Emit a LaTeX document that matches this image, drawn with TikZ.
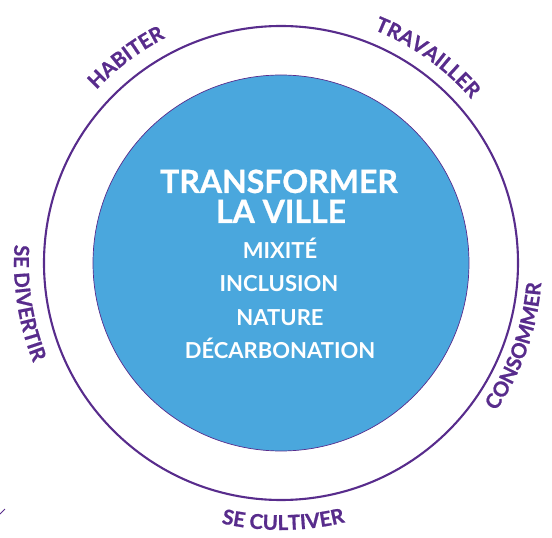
\documentclass[tikz,border=0pt]{standalone}
\usepackage{fontspec}
\setmainfont{Lato}
\newfontfamily\heavyface{Lato}[BoldFeatures={FakeBold=0.8}]
\usetikzlibrary{decorations.text}
\definecolor{ink}{RGB}{88,44,140}
\definecolor{sky}{RGB}{74,167,221}
\newcommand{\ringfont}{\heavyface\bfseries\fontsize{20.5}{20.5}\selectfont}
\begin{document}
\begin{tikzpicture}
[x=1pt, y=1pt,
ring/.style={circle, draw=ink, line width=2.1pt, inner sep=0pt, minimum size=474pt},
core/.style={circle, draw=ink, line width=0.7pt, fill=sky, inner sep=0pt, minimum size=376pt},
title/.style={anchor=base, inner sep=0pt, text=white, font=\heavyface\bfseries\fontsize{32}{32}\selectfont},
theme/.style={anchor=base, inner sep=0pt, text=white, font=\bfseries\fontsize{22}{22}\selectfont},
outside/.style={decorate, decoration={text along path, text align=center, text color=ink}}
]
\useasboundingbox (-281,-275) rectangle (271,263);

\node[ring] (outer) at (0,0) {};
\node[core] (inner) at (0,0) {};

\node[title] (title1) at (-2,70) {TRANSFORMER};
\node[title] (title2) at (0,40) {LA VILLE};

\node[theme] (mixite) at (-1,4) {MIXITÉ};
\node[theme] (inclusion) at (-2,-29) {INCLUSION};
\node[theme] (nature) at (-1,-63) {NATURE};
\node[theme] (decarb) at (-1,-96) {DÉCARBONATION};

\path[outside, decoration={text={|\ringfont|HABITER}}]
  (160:253) arc[start angle=160, end angle=94, radius=253];
\path[outside, decoration={text={|\ringfont|TRAVAILLER}}]
  (90:251) arc[start angle=90, end angle=19, radius=251];
\path[outside, decoration={text={|\ringfont|CONSOMMER}}]
  (-55:261) arc[start angle=-55, end angle=16, radius=261];
\path[outside, decoration={text={|\ringfont|SE DIVERTIR}}]
  (155:267) arc[start angle=155, end angle=223, radius=267];
\path[outside, decoration={text={|\ringfont|SE CULTIVER}}]
  (-125:267) arc[start angle=-125, end angle=-54, radius=267];

\draw[ink, line width=1pt] (-281,-251) -- (-276,-246);
\end{tikzpicture}
\end{document}
